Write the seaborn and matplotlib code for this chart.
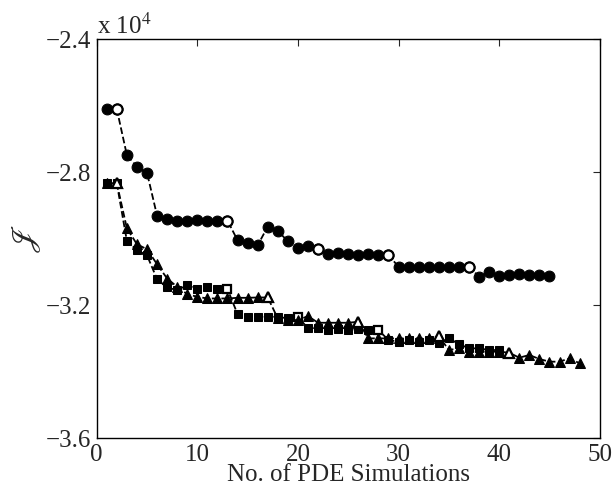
import numpy as np
import pandas as pd
import matplotlib
matplotlib.use('Agg')
import matplotlib.pyplot as plt
import seaborn as sns

# objective values (units of 1e4)
circ_x = list(range(1, 46))
circ_y = [-2.611, -2.611, -2.749, -2.784, -2.802, -2.931, -2.941, -2.946, -2.946, -2.944,
          -2.946, -2.946, -2.946, -3.005, -3.014, -3.020, -2.964, -2.977, -3.008, -3.028,
          -3.023, -3.031, -3.047, -3.042, -3.047, -3.049, -3.047, -3.049, -3.049, -3.085,
          -3.085, -3.085, -3.085, -3.085, -3.085, -3.085, -3.085, -3.114, -3.101, -3.112,
          -3.109, -3.105, -3.108, -3.110, -3.112]
circ_open = [2, 13, 22, 29, 37]

sq_x = list(range(1, 41))
sq_y = [-2.834, -2.834, -3.007, -3.035, -3.050, -3.122, -3.147, -3.155, -3.140, -3.152,
        -3.147, -3.152, -3.152, -3.227, -3.235, -3.235, -3.235, -3.235, -3.240, -3.235,
        -3.270, -3.270, -3.275, -3.272, -3.275, -3.272, -3.275, -3.275, -3.305, -3.310,
        -3.305, -3.310, -3.305, -3.314, -3.300, -3.317, -3.330, -3.330, -3.335, -3.335]
sq_open = [13, 20, 28]

tri_x = list(range(1, 49))
tri_y = [-2.834, -2.834, -2.969, -3.017, -3.032, -3.077, -3.120, -3.145, -3.167, -3.175,
         -3.180, -3.180, -3.180, -3.178, -3.178, -3.177, -3.177, -3.240, -3.245, -3.245,
         -3.233, -3.253, -3.253, -3.253, -3.253, -3.250, -3.300, -3.300, -3.300, -3.300,
         -3.300, -3.300, -3.300, -3.293, -3.335, -3.330, -3.340, -3.340, -3.340, -3.340,
         -3.343, -3.358, -3.350, -3.362, -3.370, -3.370, -3.360, -3.375]
tri_open = [2, 17, 26, 34, 41]

sns.set_style('white')
plt.rcParams['font.family'] = ['Liberation Serif', 'DejaVu Serif']
plt.rcParams['mathtext.fontset'] = 'stix'

fig = plt.figure(figsize=(6.12, 4.94), dpi=100)
ax = fig.add_axes([0.158, 0.113, 0.822, 0.808])

series = [
    (sq_x, sq_y, sq_open, 's', 5.8),
    (tri_x, tri_y, tri_open, '^', 7.8),
    (circ_x, circ_y, circ_open, 'o', 7.8),
]
for xs, ys, opens, mk, ms in series:
    df = pd.DataFrame({'x': xs, 'y': ys})
    sns.lineplot(data=df, x='x', y='y', ax=ax, color='k', linestyle='--', linewidth=1.3,
                 marker=mk, markersize=ms, markerfacecolor='k', markeredgecolor='k',
                 dashes=(4, 3))
    op = df[df['x'].isin(opens)]
    ax.plot(op['x'], op['y'], linestyle='none', marker=mk, markersize=ms - 0.5,
            markerfacecolor='white', markeredgecolor='k', markeredgewidth=1.6)

ax.set_xlim(0, 50)
ax.set_ylim(-3.6, -2.4)
ax.set_xticks([0, 10, 20, 30, 40, 50])
ax.set_yticks([-3.6, -3.2, -2.8, -2.4])
ax.set_yticklabels(['\u22123.6', '\u22123.2', '\u22122.8', '\u22122.4'])
ax.tick_params(direction='in', top=True, right=True, labelsize=18, length=5, width=0.8)
ax.tick_params(axis='x', pad=4)
ax.tick_params(axis='y', pad=4)
for s in ax.spines.values():
    s.set_color('k')
    s.set_linewidth(1.0)

ax.set_xlabel('No. of PDE Simulations', fontsize=18, labelpad=-1)
ax.set_ylabel(r'$\mathscr{J}$', fontsize=24, labelpad=2)
ax.text(0.0, 1.0, r'x 10$^4$', transform=ax.transAxes, fontsize=18,
        ha='left', va='bottom')

fig.savefig('out.png', dpi=100)
